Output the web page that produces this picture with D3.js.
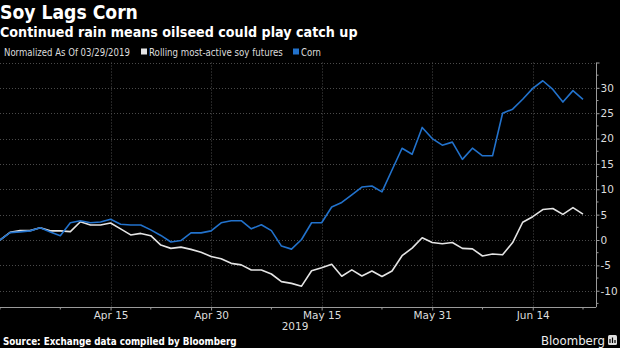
<!DOCTYPE html>
<html><head><meta charset="utf-8">
<script src="https://cdn.jsdelivr.net/npm/d3@7"></script>
<style>body{margin:0;background:#000;} svg{display:block;}</style>
</head><body>
<script>
// ---- data ----
const dates = [
 "2019-03-29",
 "2019-04-01","2019-04-02","2019-04-03","2019-04-04","2019-04-05",
 "2019-04-08","2019-04-09","2019-04-10","2019-04-11","2019-04-12",
 "2019-04-15","2019-04-16","2019-04-17","2019-04-18",
 "2019-04-22","2019-04-23","2019-04-24","2019-04-25","2019-04-26",
 "2019-04-29","2019-04-30",
 "2019-05-01","2019-05-02","2019-05-03",
 "2019-05-06","2019-05-07","2019-05-08","2019-05-09","2019-05-10",
 "2019-05-13","2019-05-14","2019-05-15","2019-05-16","2019-05-17",
 "2019-05-20","2019-05-21","2019-05-22","2019-05-23","2019-05-24",
 "2019-05-28","2019-05-29","2019-05-30","2019-05-31",
 "2019-06-03","2019-06-04","2019-06-05","2019-06-06","2019-06-07",
 "2019-06-10","2019-06-11","2019-06-12","2019-06-13","2019-06-14",
 "2019-06-17","2019-06-18","2019-06-19","2019-06-20","2019-06-21"
];
const soy = [
 0, 1.5, 1.85, 1.85, 2.4, 1.8, 1.8, 1.65, 3.6, 2.95, 2.95,
 3.35, 2.2, 1.0, 1.3, 0.85, -1.0, -1.65, -1.4, -1.85, -2.4, -3.25,
 -3.7, -4.6, -4.9, -5.9, -5.9, -6.7, -8.2, -8.55, -9.1, -6.05, -5.45,
 -4.8, -7.15, -5.9, -7.1, -6.1, -7.2, -6.1, -3.1, -1.6, 0.45, -0.5,
 -0.75, -0.5, -1.65, -1.75, -3.15, -2.75, -2.9, -0.5, 3.5, 4.6, 6.0,
 6.2, 5.05, 6.4, 5.1
];
const corn = [
 0, 1.45, 1.6, 1.8, 2.4, 1.6, 0.85, 3.4, 3.8, 3.4, 3.55,
 4.1, 3.1, 2.95, 2.95, 2.0, 0.9, -0.4, -0.1, 1.4, 1.4, 1.8,
 3.4, 3.8, 3.8, 2.2, 3.0, 1.85, -1.2, -1.8, 0.1, 3.4, 3.4,
 6.5, 7.4, 8.9, 10.45, 10.65, 9.5, 13.8, 18.1, 16.9, 22.2, 20.0,
 18.7, 19.3, 15.9, 18.1, 16.6, 16.6, 25.0, 25.8, 27.75, 29.9, 31.4,
 29.7, 27.2, 29.45, 27.75
];
const seriesNames = ["Rolling most-active soy futures", "Corn"];
const xLabelDates = ["2019-04-15","2019-04-30","2019-05-15","2019-05-31","2019-06-14"];
const xLabels = ["Apr 15","Apr 30","May 15","May 31","Jun 14"];
const xMinorDates = ["2019-03-29","2019-04-08","2019-04-22","2019-05-08","2019-05-23","2019-06-07","2019-06-21"];
const yTicks = [-10,-5,0,5,10,15,20,25,30,35];
const yTickLabels = ["-10","-5","0","5","10","15","20","25","30",""];
const yMinorTicks = [-12.5,-7.5,-2.5,2.5,7.5,12.5,17.5,22.5,27.5,32.5];

// ---- layout ----
const W = 620, H = 348;
const plotLeft = 0, plotRight = 596, plotTop = 62.5, plotBottom = 306.7;
const font = "'DejaVu Sans', Verdana, sans-serif";
const soyColor = "#e4e4e4", cornColor = "#2272cc";

const svg = d3.select("body").append("svg").attr("width", W).attr("height", H)
  .style("background", "#000");

const x = d3.scalePoint().domain(dates).range([0, 583]).padding(0);
const y = d3.scaleLinear().domain([-13.15, 35]).range([plotBottom, plotTop]);

// squeeze a text horizontally to a target width (keeps a true bounding box)
function fitText(sel, targetW) {
  const w = sel.node().getComputedTextLength();
  const x0 = +sel.attr("x"), y0 = +sel.attr("y");
  sel.attr("x", 0).attr("y", 0)
    .attr("transform", `translate(${x0},${y0}) scale(${(targetW / w).toFixed(4)},1)`);
  return sel;
}

// titles
fitText(svg.append("text").attr("x", 0).attr("y", 19).text("Soy Lags Corn")
  .attr("fill", "#fff").attr("font-family", font).attr("font-weight", "bold")
  .attr("font-size", 20), 138);
fitText(svg.append("text").attr("x", 0).attr("y", 37.3).text("Continued rain means oilseed could play catch up")
  .attr("fill", "#fff").attr("font-family", font).attr("font-weight", "bold")
  .attr("font-size", 14.5), 358);

// legend
const lg = svg.append("g").attr("font-family", font).attr("font-size", 10.5).attr("fill", "#ddd");
fitText(lg.append("text").attr("x", 4).attr("y", 56).text("Normalized As Of 03/29/2019"), 126);
lg.append("rect").attr("x", 141).attr("y", 48.5).attr("width", 6).attr("height", 6).attr("fill", soyColor);
fitText(lg.append("text").attr("x", 149).attr("y", 56).text(seriesNames[0]), 134);
lg.append("rect").attr("x", 293).attr("y", 48.5).attr("width", 6).attr("height", 6).attr("fill", cornColor);
fitText(lg.append("text").attr("x", 301).attr("y", 56).text(seriesNames[1]), 20);

// gridlines
const grid = svg.append("g").attr("stroke", "#4a4a4a").attr("stroke-width", 1).attr("stroke-dasharray", "1,2");
grid.selectAll("line.h").data(yTicks).join("line").attr("class", "h")
  .attr("x1", plotLeft).attr("x2", plotRight)
  .attr("y1", d => Math.round(y(d)) + 0.5).attr("y2", d => Math.round(y(d)) + 0.5);
grid.selectAll("line.v").data(xLabelDates).join("line").attr("class", "v")
  .attr("x1", d => Math.round(x(d)) + 0.5).attr("x2", d => Math.round(x(d)) + 0.5)
  .attr("y1", plotTop).attr("y2", plotBottom);

// lines
const line = d3.line().x((d, i) => x(dates[i])).y(d => y(d));
svg.append("path").datum(soy).attr("d", line).attr("fill", "none")
  .attr("stroke", soyColor).attr("stroke-width", 1.6).attr("stroke-linejoin", "round");
svg.append("path").datum(corn).attr("d", line).attr("fill", "none")
  .attr("stroke", cornColor).attr("stroke-width", 1.6).attr("stroke-linejoin", "round");

// x axis
const axisColor = "#9a9a9a";
const xAxisG = svg.append("g").attr("transform", `translate(0,${Math.round(plotBottom) + 0.5})`);
xAxisG.append("line").attr("x1", 0).attr("x2", plotRight).attr("stroke", axisColor).attr("stroke-width", 1.2);
xAxisG.call(d3.axisBottom(x).tickValues(xLabelDates).tickSize(3).tickPadding(1)
  .tickFormat((d, i) => xLabels[i]));
xAxisG.select(".domain").remove();
xAxisG.selectAll(".tick line").attr("stroke", axisColor);
xAxisG.selectAll(".tick text").attr("fill", "#ddd").attr("font-family", font).attr("font-size", 10.5);
xAxisG.selectAll("line.minor").data(xMinorDates).join("line").attr("class", "minor")
  .attr("x1", d => x(d)).attr("x2", d => x(d)).attr("y1", 0).attr("y2", 2)
  .attr("stroke", axisColor);
svg.append("text").attr("x", 295).attr("y", 330).attr("text-anchor", "middle").text("2019")
  .attr("fill", "#ddd").attr("font-family", font).attr("font-size", 10.5);

// y axis
const yAxisG = svg.append("g").attr("transform", `translate(${plotRight + 0.5},0)`);
yAxisG.call(d3.axisRight(y).tickValues(yTicks).tickSize(3).tickPadding(1)
  .tickFormat((d, i) => yTickLabels[i]));
yAxisG.select(".domain").attr("stroke", axisColor).attr("d", `M0,${plotTop}V${plotBottom + 0.5}`);
yAxisG.selectAll(".tick line").attr("stroke", axisColor);
yAxisG.selectAll(".tick text").attr("fill", "#ddd").attr("font-family", font).attr("font-size", 10.5);
yAxisG.selectAll("line.minor").data(yMinorTicks).join("line").attr("class", "minor")
  .attr("x1", 0).attr("x2", 2).attr("y1", d => y(d)).attr("y2", d => y(d))
  .attr("stroke", axisColor);

// footer
fitText(svg.append("text").attr("x", 3).attr("y", 345).text("Source: Exchange data compiled by Bloomberg")
  .attr("fill", "#fff").attr("font-family", font).attr("font-weight", "bold")
  .attr("font-size", 10.5), 234);
fitText(svg.append("text").attr("x", 541).attr("y", 345).text("Bloomberg")
  .attr("fill", "#eee").attr("font-family", font).attr("font-size", 12.5), 64);
const logo = svg.append("g").attr("transform", "translate(608,335)");
logo.append("rect").attr("width", 9).attr("height", 10).attr("rx", 1.5).attr("fill", "#ddd");
logo.append("path").attr("d", "M2,8V4M4.5,8V2.5M7,8V5").attr("stroke", "#000").attr("stroke-width", 1.2);
</script>
</body></html>
